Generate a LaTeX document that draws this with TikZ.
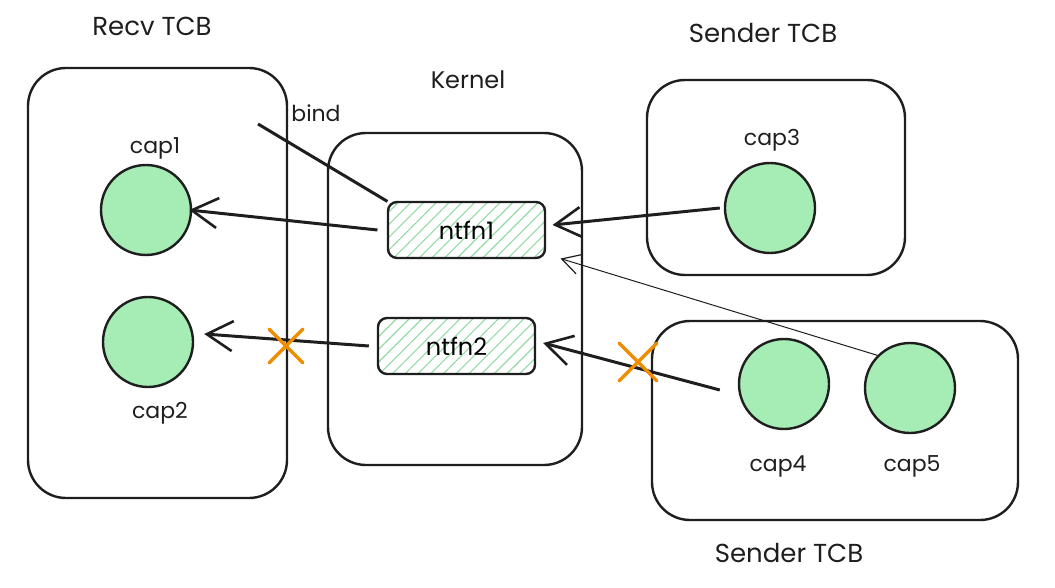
\documentclass[tikz,border=0pt]{standalone}
\usepackage{fontspec}
\setmainfont{Poppins}
\usetikzlibrary{arrows.meta,patterns.meta}
\definecolor{capgreen}{HTML}{A5EDB5}
\definecolor{hatch}{HTML}{93DBA3}
\definecolor{xorange}{HTML}{F08C00}
\definecolor{ink}{HTML}{1E1E1E}
\tikzset{
  box/.style={draw=ink, line width=2.4pt, rounded corners=38pt},
  capnode/.style={circle, draw=ink, line width=2.4pt, fill=capgreen, minimum size=90pt, inner sep=0pt},
  ntfn/.style={draw=ink, line width=2.4pt, rounded corners=9pt, minimum width=157pt, minimum height=56pt,
     pattern={Lines[angle=45,distance=9pt,line width=1.1pt]}, pattern color=hatch, font=\fontsize{24}{28}\selectfont},
  lbl/.style={font=\fontsize{22}{26}\selectfont, text=ink},
  blbl/.style={font=\fontsize{26}{30}\selectfont, text=ink},
  conn/.style={line width=3pt, draw=ink, -{Straight Barb[length=26pt,width=30pt,line width=2.6pt]}},
  xmark/.style={draw=xorange, line width=3.4pt, line cap=round},
}
\begin{document}
\begin{tikzpicture}[x=1pt,y=-1pt]
\useasboundingbox (0,0) rectangle (1055,588);
% boxes
\node[box, minimum width=259pt, minimum height=430pt] (recv) at (157.5,283) {};
\node[box, minimum width=254pt, minimum height=332pt] (kern) at (455,299) {};
\node[box, minimum width=258pt, minimum height=195pt] (s1) at (776,177.5) {};
\node[box, minimum width=366pt, minimum height=199pt] (s2) at (835,420.5) {};
% box labels
\node[blbl] (recvl) at (152,26) {Recv TCB};
\node[blbl, font=\fontsize{24}{28}\selectfont] (kernl) at (468,80) {Kernel};
\node[blbl] (s1l) at (763,33) {Sender TCB};
\node[blbl] (s2l) at (789,553) {Sender TCB};
% caps
\node[capnode] (cap1) at (146,210) {};
\node[capnode] (cap2) at (148,342) {};
\node[capnode] (cap3) at (770,208) {};
\node[capnode] (cap4) at (784,384) {};
\node[capnode] (cap5) at (910,388) {};
\node[lbl] (cap1l) at (155,148) {cap1};
\node[lbl] (cap2l) at (160,413) {cap2};
\node[lbl] (cap3l) at (772,140) {cap3};
\node[lbl] (cap4l) at (778,466) {cap4};
\node[lbl] (cap5l) at (912,466) {cap5};
% ntfn
\node[ntfn] (n1) at (466.5,230) {ntfn1};
\node[ntfn] (n2) at (456.5,346) {ntfn2};
% bind
\coordinate (bindend) at (258,124);
\draw[line width=3pt, draw=ink] (n1.north west) -- (bindend);
\node[lbl] (bindl) at (316,113) {bind};
% arrows
\draw[conn] ([xshift=-10pt]n1.west) -- ([xshift=-3pt]cap1.east);
\draw[conn] ([xshift=-4pt]cap3.west) -- ([xshift=7pt,yshift=5pt]n1.east);
\draw[line width=1pt, draw=ink, -{Straight Barb[length=18pt,width=20pt,line width=1.2pt]}] (cap5.north west) -- ([xshift=15pt]n1.south east);
\draw[conn] ([xshift=-8pt]n2.west) -- ([xshift=10pt,yshift=8pt]cap2.east);
\draw[conn] ([xshift=-18pt,yshift=-6pt]cap4.west) -- ([xshift=7pt,yshift=3pt]n2.east);
% X marks
\coordinate (x1) at (286,346);
\coordinate (x2) at (638,362);
\draw[xmark] ([shift={(-17,-17)}]x1) -- ([shift={(17,17)}]x1);
\draw[xmark] ([shift={(-17,17)}]x1) -- ([shift={(17,-17)}]x1);
\draw[xmark] ([shift={(-19,-19)}]x2) -- ([shift={(19,19)}]x2);
\draw[xmark] ([shift={(-19,19)}]x2) -- ([shift={(19,-19)}]x2);
\end{tikzpicture}
\end{document}
